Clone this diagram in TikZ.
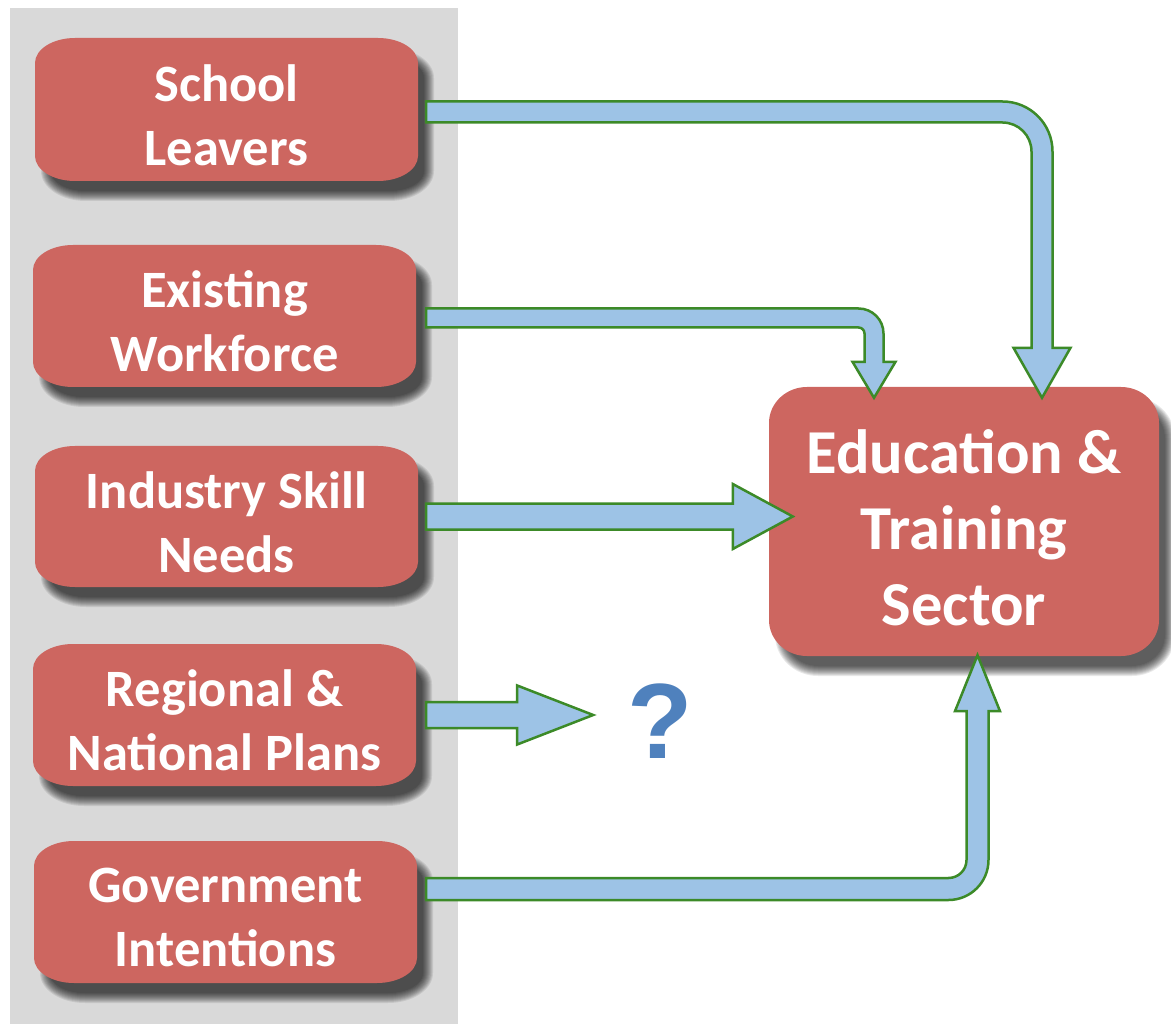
\documentclass[tikz,border=0pt]{standalone}
\usepackage{fontspec}
\setmainfont{Carlito}
\newfontfamily\qfont{Liberation Sans}
\usetikzlibrary{calc}
\definecolor{boxred}{RGB}{205,102,96}
\definecolor{arrblue}{RGB}{157,195,230}
\definecolor{arrgreen}{RGB}{60,138,40}
\definecolor{qblue}{RGB}{79,129,189}
\definecolor{panelgrey}{RGB}{217,217,217}
% rounded box in pixel coords (y downwards): x1 y1 x2 y2 rx ry style
\newcommand\myrbox[7]{%
 \path[#7] ({(#1)+(#5)},{-(#2)}) -- ({(#3)-(#5)},{-(#2)})
   arc[start angle=90,end angle=0,x radius={#5},y radius={#6}]
   -- ({#3},{-(#4)+(#6)})
   arc[start angle=0,end angle=-90,x radius={#5},y radius={#6}]
   -- ({(#1)+(#5)},{-(#4)})
   arc[start angle=270,end angle=180,x radius={#5},y radius={#6}]
   -- ({#1},{-(#2)-(#6)})
   arc[start angle=180,end angle=90,x radius={#5},y radius={#6}] -- cycle;}
\newcommand\myshadow[6]{%
 \foreach \i in {-5,...,5}{%
  \myrbox{#1+11-\i}{#2+15-\i}{#3+11+\i}{#4+15+\i}{#5+\i}{#6+\i}{fill=black,fill opacity=0.085}}}
\begin{document}
\begin{tikzpicture}[x=1pt,y=1pt,
  lbl/.style={text=white,font=\bfseries\fontsize{52.5}{64}\selectfont,align=center,
    inner sep=0pt,minimum width=383pt,minimum height=142pt},
  biglbl/.style={text=white,font=\bfseries\fontsize{62.5}{76}\selectfont,align=center,
    inner sep=0pt,minimum width=390pt,minimum height=269pt},
  blk/.style={fill=arrblue,draw=arrgreen,line width=2.5pt,line join=miter}]
\useasboundingbox (0,0) rectangle (1171,-1024);
% grey panel
\fill[panelgrey] (10,-8) rectangle (458,-1024);
% shadows
\myshadow{35}{38}{418}{181}{40}{25}
\myshadow{33}{245}{416}{387}{40}{25}
\myshadow{35}{446}{418}{587}{40}{25}
\myshadow{33}{644}{416}{786}{40}{25}
\myshadow{34}{841}{417}{983}{40}{25}
\myshadow{769}{387}{1159}{656}{38}{36}
% boxes
\myrbox{35}{38}{418}{181}{40}{25}{fill=boxred}
\myrbox{33}{245}{416}{387}{40}{25}{fill=boxred}
\myrbox{35}{446}{418}{587}{40}{25}{fill=boxred}
\myrbox{33}{644}{416}{786}{40}{25}{fill=boxred}
\myrbox{34}{841}{417}{983}{40}{25}{fill=boxred}
\myrbox{769}{387}{1159}{656}{38}{36}{fill=boxred}
% labels
\node[lbl] (b1) at (226.5,-115) {School\\Leavers};
\node[lbl] (b2) at (224.5,-321.5) {Existing\\Workforce};
\node[lbl] (b3) at (226.5,-522) {Industry Skill\\Needs};
\node[lbl] (b4) at (224.5,-720.5) {Regional \&\\National Plans};
\node[lbl] (b5) at (225.5,-917.5) {Government\\Intentions};
\node[biglbl] (edu) at (964,-527.5) {Education \&\\Training\\Sector};
\node[text=qblue,font=\qfont\bfseries\fontsize{107}{107}\selectfont,inner sep=0pt] (q) at (660,-721) {?};
% connector coordinates
\coordinate (s1) at ($(b1.east)+(8,3)$);
\coordinate (t1) at ($(edu.north)+(78,-5)$);
\coordinate (c1) at (t1 |- s1);
\coordinate (s2) at ($(b2.east)+(10,3.5)$);
\coordinate (t2) at ($(edu.north)+(-90,-5)$);
\coordinate (c2) at (t2 |- s2);
\coordinate (s3) at ($(b3.east)+(8,5.5)$);
\coordinate (t3) at ($(s3 -| edu.west)+(24,0)$);
\coordinate (s4) at ($(b4.east)+(10,5.5)$);
\coordinate (t4) at ($(s4)+(167,0)$);
\coordinate (s5) at ($(b5.east)+(9,28.5)$);
\coordinate (t5) at ($(edu.south)+(13.5,7)$);
\coordinate (c5) at (t5 |- s5);
% arrow 1: School Leavers -> Education
\path[blk] ($(s1)+(0,10.5)$) -- ($(c1)+(-39.5,10.5)$)
  arc[start angle=90,end angle=0,radius=50]
  -- ($(t1)+(10.5,50)$) -- ($(t1)+(28.5,50)$) -- (t1) -- ($(t1)+(-28.5,50)$)
  -- ($(t1)+(-10.5,50)$) -- ($(c1)+(-10.5,-39.5)$)
  arc[start angle=0,end angle=90,radius=29]
  -- ($(s1)+(0,-10.5)$) -- cycle;
% arrow 2: Existing Workforce -> Education
\path[blk] ($(s2)+(0,9.5)$) -- ($(c2)+(-15.5,9.5)$)
  arc[start angle=90,end angle=0,radius=25]
  -- ($(t2)+(9.5,36)$) -- ($(t2)+(21.5,36)$) -- (t2) -- ($(t2)+(-21.5,36)$)
  -- ($(t2)+(-9.5,36)$) -- ($(c2)+(-9.5,-15.5)$)
  arc[start angle=0,end angle=90,radius=6]
  -- ($(s2)+(0,-9.5)$) -- cycle;
% arrow 3: Industry Skill Needs -> Education
\path[blk] ($(s3)+(0,13)$) -- ($(t3)+(-60,13)$) -- ($(t3)+(-60,32.5)$) -- (t3)
  -- ($(t3)+(-60,-32.5)$) -- ($(t3)+(-60,-13)$) -- ($(s3)+(0,-13)$) -- cycle;
% arrow 4: Regional & National Plans -> ?
\path[blk] ($(s4)+(0,13)$) -- ($(t4)+(-76,13)$) -- ($(t4)+(-76,29.5)$) -- (t4)
  -- ($(t4)+(-76,-29.5)$) -- ($(t4)+(-76,-13)$) -- ($(s4)+(0,-13)$) -- cycle;
% arrow 5: Government Intentions -> Education
\path[blk] ($(s5)+(0,11)$) -- ($(c5)+(-29,11)$)
  arc[start angle=-90,end angle=0,radius=18]
  -- ($(t5)+(-11,-56)$) -- ($(t5)+(-22.5,-56)$) -- (t5) -- ($(t5)+(22.5,-56)$)
  -- ($(t5)+(11,-56)$) -- ($(c5)+(11,29)$)
  arc[start angle=0,end angle=-90,radius=40]
  -- ($(s5)+(0,-11)$) -- cycle;
\end{tikzpicture}
\end{document}
